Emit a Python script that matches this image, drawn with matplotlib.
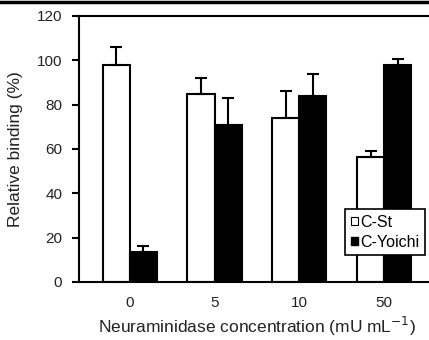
import numpy as np
import matplotlib
matplotlib.use('Agg')
import matplotlib.pyplot as plt
from matplotlib.patches import Patch
from matplotlib.lines import Line2D

plt.rcParams['font.family'] = ['Liberation Sans', 'DejaVu Sans']

conc = ['0', '5', '10', '50']
cst = [98, 85, 74, 56.5]
cst_err = [8, 7, 12, 2.5]
yoichi = [13.5, 71, 84, 98]
yoichi_err = [2.5, 12, 10, 2.5]

fig = plt.figure(figsize=(4.29, 3.4), dpi=100)
ax = fig.add_axes([0.184, 0.171, 0.83, 0.782])

x = np.arange(len(conc))
w = 0.32
ax.bar(x - w / 2, cst, w, color='white', edgecolor='black', linewidth=1.5,
       yerr=[np.zeros(4), cst_err], capsize=4,
       error_kw=dict(elinewidth=1.5, capthick=1.5, ecolor='black'))
ax.bar(x + w / 2, yoichi, w, color='black', edgecolor='black', linewidth=1.5,
       yerr=[np.zeros(4), yoichi_err], capsize=4,
       error_kw=dict(elinewidth=1.5, capthick=1.5, ecolor='black'))

ax.set_xlim(-0.6, 3.6)
ax.set_ylim(0, 120)
ax.set_yticks(range(0, 121, 20))
ax.set_xticks(x)
ax.set_xticklabels(conc)
ax.tick_params(axis='x', length=0, pad=10, labelsize=11, labelcolor='#222222')
ax.tick_params(axis='y', length=5, width=1.5, labelsize=11, pad=7, labelcolor='#222222')
for s in ax.spines.values():
    s.set_linewidth(1.5)

ax.set_xlabel('Neuraminidase concentration (mU mL$^{-1}$)', fontsize=12.5,
              labelpad=4, color='#222222')
ax.set_ylabel('Relative binding (%)', fontsize=12.5, labelpad=10, color='#222222')

handles = [Patch(facecolor='white', edgecolor='black', linewidth=0.8),
           Patch(facecolor='black', edgecolor='black')]
leg = ax.legend(handles, ['C-St', 'C-Yoichi'], loc='lower right',
                bbox_to_anchor=(0.995, 0.07), fontsize=11.5, handlelength=0.45,
                handleheight=0.45, handletextpad=0.15, fancybox=False,
                framealpha=1, borderpad=0.35, labelspacing=0.3)
leg.get_frame().set_edgecolor('black')
leg.get_frame().set_linewidth(1.2)

fig.add_artist(Line2D([0, 1], [0.993, 0.993], color='black', linewidth=2.5,
                      transform=fig.transFigure))

fig.savefig('out.png', dpi=100)
